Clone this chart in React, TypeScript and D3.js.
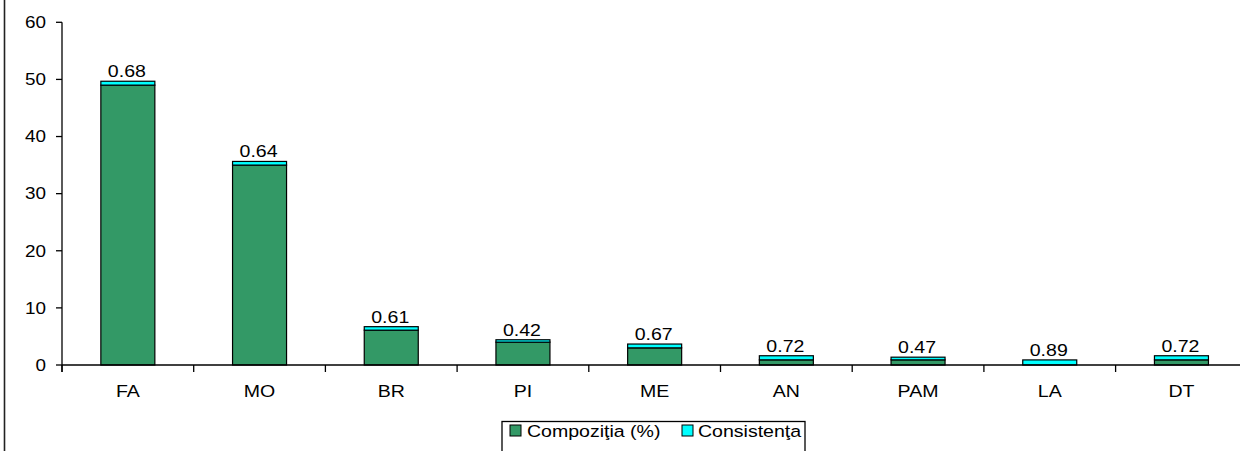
import React from "react";
import * as d3 from "d3";

const categories = ["FA", "MO", "BR", "PI", "ME", "AN", "PAM", "LA", "DT"];
const compozitia = [49, 35, 6.1, 4, 3, 0.9, 0.9, 0, 0.9];
const consistenta = [0.68, 0.64, 0.61, 0.42, 0.67, 0.72, 0.47, 0.89, 0.72];
const yTicks = [0, 10, 20, 30, 40, 50, 60];
const seriesNames = ["Compoziţia (%)", "Consistenţa"];
const seriesColors = ["#339966", "#00FFFF"];

const W = 1240;
const H = 451;
const x0 = 62;
const step = 131.7;
const yTop = 22.3;
const yZero = 365;
const FONT = "'Liberation Sans', Arial, sans-serif";

export default function App() {
  const p = 1 - 54 / step;
  const x = d3
    .scaleBand<string>()
    .domain(categories)
    .range([x0, x0 + step * categories.length])
    .paddingInner(p)
    .paddingOuter(p / 2);
  const y = d3.scaleLinear().domain([0, 60]).range([yZero, yTop]);

  const txt = (
    key: string,
    tx: number,
    ty: number,
    s: string,
    size: number,
    sx: number,
    anchor: string
  ) => (
    <text
      key={key}
      transform={`translate(${tx},${ty}) scale(${sx},1)`}
      fontSize={size}
      fontFamily={FONT}
      textAnchor={anchor}
      fill="#000"
    >
      {s}
    </text>
  );

  return (
    <svg width={W} height={H} style={{ display: "block", position: "absolute", left: 0, top: 0 }}>
      <rect x={0} y={0} width={W} height={H} fill="#fff" />
      {/* left frame border */}
      <line x1={4.5} y1={0} x2={4.5} y2={H} stroke="#222" strokeWidth={1.6} />

      {/* y axis */}
      <line x1={x0} y1={yTop} x2={x0} y2={yZero + 7} stroke="#000" strokeWidth={1.3} />
      {yTicks.map((t) => (
        <g key={"yt" + t}>
          <line x1={x0 - 6} x2={x0} y1={y(t)} y2={y(t)} stroke="#000" strokeWidth={1.3} />
          {txt("yl" + t, 46, y(t) + 5.8, String(t), 16, 1.18, "end")}
        </g>
      ))}

      {/* bars */}
      {categories.map((c, i) => {
        const bx = x(c)!;
        const bw = x.bandwidth();
        const g = compozitia[i];
        const k = consistenta[i];
        const cx = bx + bw / 2;
        return (
          <g key={"b" + c}>
            {g > 0 && (
              <rect
                x={bx}
                y={y(g)}
                width={bw}
                height={y(0) - y(g)}
                fill={seriesColors[0]}
                stroke="#000"
                strokeWidth={1.2}
              />
            )}
            <rect
              x={bx}
              y={y(g + k)}
              width={bw}
              height={y(g) - y(g + k)}
              fill={seriesColors[1]}
              stroke="#000"
              strokeWidth={1.2}
            />
            {txt("dl" + c, cx - 1, y(g + k) - 4, k.toFixed(2), 17, 1.15, "middle")}
          </g>
        );
      })}

      {/* x axis */}
      <line x1={x0} y1={yZero} x2={W} y2={yZero} stroke="#000" strokeWidth={1.3} />
      {d3.range(categories.length + 1).map((i) => (
        <line
          key={"xt" + i}
          x1={x0 + i * step}
          x2={x0 + i * step}
          y1={yZero}
          y2={yZero + 7}
          stroke="#000"
          strokeWidth={1.3}
        />
      ))}
      {categories.map((c) =>
        txt("xl" + c, x(c)! + x.bandwidth() / 2, 396.5, c, 17, 1.15, "middle")
      )}

      {/* legend */}
      <rect x={502} y={421.5} width={303} height={40} fill="#fff" stroke="#000" strokeWidth={1.3} />
      <rect x={510} y={425} width={11} height={11} fill={seriesColors[0]} stroke="#000" strokeWidth={1} />
      {txt("lg0", 527, 436.5, seriesNames[0], 17, 1.15, "start")}
      <rect x={682} y={425} width={11} height={11} fill={seriesColors[1]} stroke="#000" strokeWidth={1} />
      {txt("lg1", 698, 436.5, seriesNames[1], 17, 1.15, "start")}
    </svg>
  );
}
